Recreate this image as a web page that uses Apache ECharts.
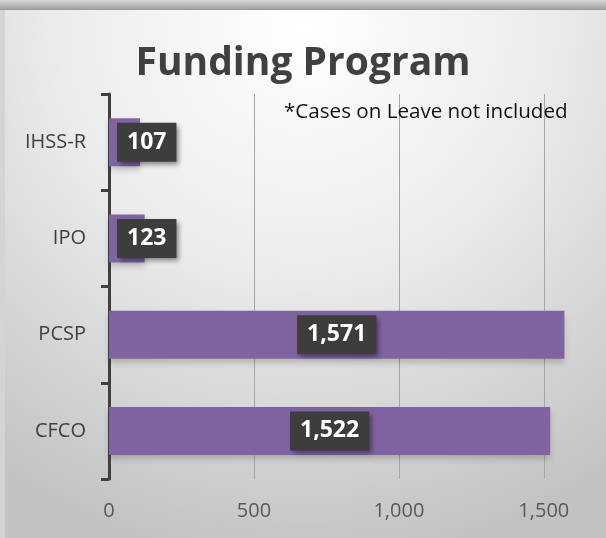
<!DOCTYPE html>
<html>
<head>
<meta charset="utf-8">
<script src="https://cdn.jsdelivr.net/npm/echarts@6/dist/echarts.min.js"></script>
<style>
  html, body { margin: 0; padding: 0; background: #c4c4c4; }
  #chart { width: 606px; height: 538px; }
</style>
</head>
<body>
<div id="chart"></div>
<script>
  // 数据
  var categories = ['CFCO', 'PCSP', 'IPO', 'IHSS-R'];
  var values = [1522, 1571, 123, 107];
  var titleText = 'Funding Program';
  var noteText = '*Cases on Leave not included';

  var font = '"Open Sans", sans-serif';

  var myChart = echarts.init(document.getElementById('chart'));

  // 小数值的标签放在柱子左侧
  var seriesData = values.map(function (v) {
    return {
      value: v,
      label: v < 500 ? { position: 'insideLeft', distance: 8 } : { position: 'inside' }
    };
  });

  var option = {
    backgroundColor: {
      type: 'radial', x: 0.5, y: 0.05, r: 1.0,
      colorStops: [
        { offset: 0, color: '#ffffff' },
        { offset: 0.45, color: '#ececec' },
        { offset: 1, color: '#c2c2c2' }
      ]
    },
    title: {
      text: titleText,
      left: 'center',
      top: 39,
      textStyle: { fontFamily: font, fontSize: 39, fontWeight: 'bold', color: '#404040' }
    },
    graphic: [
      {
        type: 'rect', left: 0, top: 0, z: 100,
        shape: { width: 606, height: 10 },
        style: {
          fill: { type: 'linear', x: 0, y: 0, x2: 0, y2: 1,
            colorStops: [{ offset: 0, color: '#dadada' }, { offset: 1, color: '#9a9a9a' }] }
        }
      },
      {
        type: 'rect', left: 0, top: 10, z: 100,
        shape: { width: 5, height: 528 },
        style: { fill: '#d4d4d4' }
      },
      {
        type: 'text', left: 284, top: 102, z: 100,
        style: { text: noteText, fontFamily: font, fontSize: 20.6, fill: '#111111' }
      }
    ],
    grid: { left: 109, right: 39, top: 94, bottom: 59, containLabel: false },
    xAxis: {
      type: 'value',
      min: 0,
      max: 1580,
      interval: 500,
      axisLine: { show: false },
      axisTick: { show: false },
      axisLabel: {
        fontFamily: font, fontSize: 20, color: '#595959', margin: 22,
        showMaxLabel: false,
        formatter: function (v) { return v % 500 === 0 ? v.toLocaleString('en-US') : ''; }
      },
      splitLine: { showMaxLine: false, lineStyle: { color: '#a6a6a6', width: 1 } }
    },
    yAxis: {
      type: 'category',
      data: categories,
      axisLine: { show: true, lineStyle: { color: '#404040', width: 3 } },
      axisTick: { show: true, length: 8, lineStyle: { color: '#404040', width: 3 } },
      axisLabel: { fontFamily: font, fontSize: 20, color: '#404040', margin: 23 }
    },
    series: [{
      type: 'bar',
      data: seriesData,
      barWidth: 48,
      itemStyle: {
        color: '#8064a2',
        shadowColor: 'rgba(0,0,0,0.18)',
        shadowBlur: 6,
        shadowOffsetY: 4
      },
      label: {
        show: true,
        fontFamily: font,
        fontSize: 23,
        fontWeight: 'bold',
        color: '#ffffff',
        backgroundColor: '#3d3d3d',
        padding: [9, 10, 7, 10],
        shadowColor: 'rgba(0,0,0,0.45)',
        shadowBlur: 5,
        shadowOffsetX: 3,
        shadowOffsetY: 3,
        formatter: function (p) { return p.value.toLocaleString('en-US'); }
      }
    }]
  };

  myChart.setOption(option);
</script>
</body>
</html>
